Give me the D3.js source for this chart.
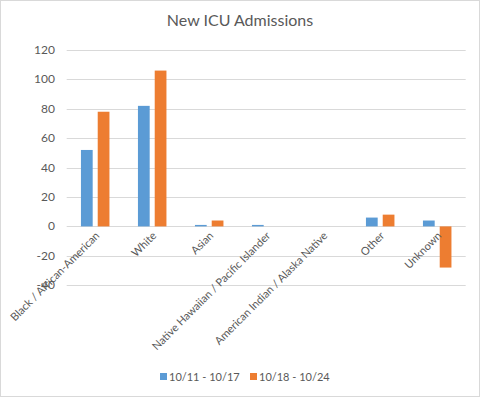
<!DOCTYPE html>
<html>
<head>
<meta charset="utf-8">
<script src="https://cdn.jsdelivr.net/npm/d3@7"></script>
<style>
  body { margin: 0; background: #fff; }
  svg { display: block; font-family: Lato, "Open Sans", sans-serif; }
</style>
</head>
<body>
<svg id="chart" width="480" height="397"></svg>
<script>
const categories = [
    "Black / African-American",
    "White",
    "Asian",
    "Native Hawaiian / Pacific Islander",
    "American Indian / Alaska Native",
    "Other",
    "Unknown"
];
const seriesNames = ["10/11 - 10/17", "10/18 - 10/24"];
const week1 = [52, 82, 1, 1, 0, 6, 4];
const week2 = [78, 106, 4, 0, 0, 8, -28];
const yTicks = [-40, -20, 0, 20, 40, 60, 80, 100, 120];
const colors = ["#5b9bd5", "#ed7d31"];

const svg = d3.select("#chart");

// outer border
svg.append("rect")
.attr("x", 0.5).attr("y", 0.5)
.attr("width", 479).attr("height", 396)
.attr("fill", "#fff")
.attr("stroke", "#d9d9d9");

// title
svg.append("text")
.attr("x", 240).attr("y", 26)
.attr("text-anchor", "middle")
.attr("fill", "#595959")
.style("font-size", "16px")
.text("New ICU Admissions");

const x = d3.scaleBand()
.domain(categories)
.range([66.7, 465.7]);

const y = d3.scaleLinear()
.domain([-40, 120])
.range([285.2, 50]);

const inner = d3.scaleBand()
.domain(seriesNames)
.range([0, x.bandwidth()])
.paddingInner(0.3)
.paddingOuter(0.85);

// gridlines
svg.append("g")
.selectAll("line")
.data(yTicks)
.join("line")
.attr("x1", x.range()[0])
.attr("x2", x.range()[1])
.attr("y1", d => Math.round(y(d)) + 0.5)
.attr("y2", d => Math.round(y(d)) + 0.5)
.attr("stroke", "#d9d9d9");

// y labels
svg.append("g")
.selectAll("text")
.data(yTicks)
.join("text")
.attr("x", 55)
.attr("y", d => y(d) + 4)
.attr("text-anchor", "end")
.attr("fill", "#595959")
.style("font-size", "12px")
.text(d => d);

// bars
const data = [week1, week2];
data.forEach((vals, s) => {
    svg.append("g")
    .selectAll("rect")
    .data(vals)
    .join("rect")
    .attr("x", (d, i) => x(categories[i]) + inner(seriesNames[s]))
    .attr("width", inner.bandwidth())
    .attr("y", d => y(Math.max(0, d)))
    .attr("height", d => Math.abs(y(d) - y(0)))
    .attr("fill", colors[s]);
});

// category labels, rotated like Excel
svg.append("g")
.selectAll("text")
.data(categories)
.join("text")
.attr("transform", d => `translate(${x(d) + x.bandwidth() / 2 + 5},${y(0) + 10}) rotate(-45)`)
.attr("text-anchor", "end")
.attr("fill", "#595959")
.style("font-size", "11px")
.text(d => d);

// legend
const legend = svg.append("g");
const legendX = [160, 250];
seriesNames.forEach((name, i) => {
    legend.append("rect")
    .attr("x", legendX[i]).attr("y", 373)
    .attr("width", 7).attr("height", 7)
    .attr("fill", colors[i]);
    legend.append("text")
    .attr("x", legendX[i] + 9).attr("y", 381)
    .attr("fill", "#595959")
    .style("font-size", "11px")
    .text(name);
});
</script>
</body>
</html>
